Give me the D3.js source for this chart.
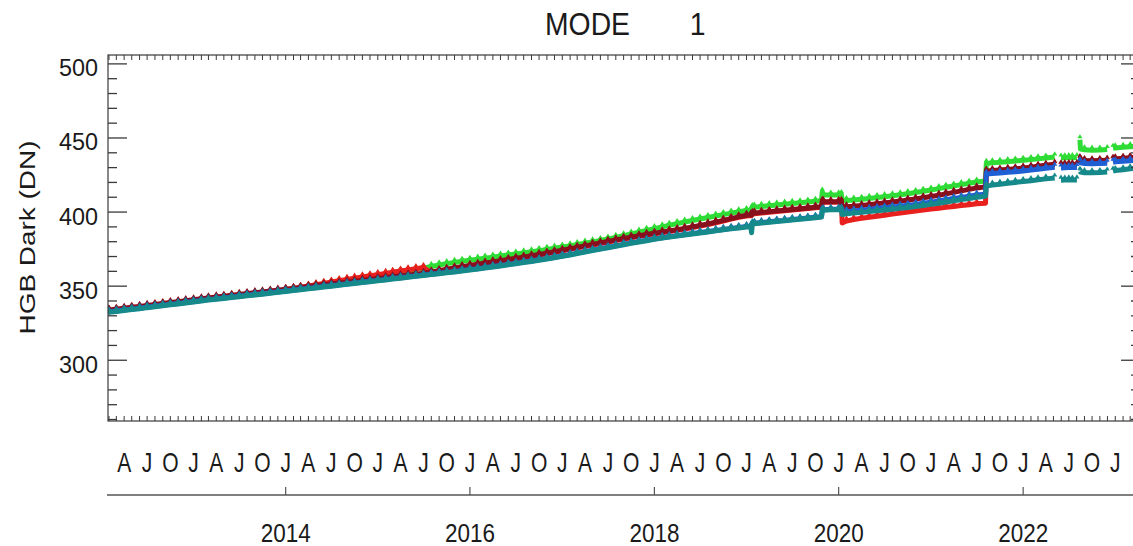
<!DOCTYPE html>
<html>
<head>
<meta charset="utf-8">
<script src="https://cdn.jsdelivr.net/npm/d3@7"></script>
<style>
  html, body { margin: 0; padding: 0; background: #fff; }
  svg { display: block; font-family: "Liberation Sans", Arial, sans-serif; }
</style>
</head>
<body>
<svg id="chart" width="1133" height="546"></svg>
<script>
// Sample dates (UTC). null entries in the series mark data gaps.
const dates = [
  "2012-01-28","2012-02-01","2012-03-01","2012-04-01","2012-05-01","2012-06-01","2012-07-01","2012-08-01","2012-09-01","2012-10-01","2012-11-01","2012-12-01",
  "2013-01-01","2013-02-01","2013-03-01","2013-04-01","2013-05-01","2013-06-01","2013-07-01","2013-08-01","2013-09-01","2013-10-01","2013-11-01","2013-12-01",
  "2014-01-01","2014-02-01","2014-03-01","2014-04-01","2014-05-01","2014-06-01","2014-07-01","2014-08-01","2014-09-01","2014-10-01","2014-11-01","2014-12-01",
  "2015-01-01","2015-02-01","2015-03-01","2015-04-01","2015-05-01","2015-06-01","2015-07-01","2015-08-01","2015-09-01","2015-10-01","2015-11-01","2015-12-01",
  "2016-01-01","2016-02-01","2016-03-01","2016-04-01","2016-05-01","2016-06-01","2016-07-01","2016-08-01","2016-09-01","2016-10-01","2016-11-01","2016-12-01",
  "2017-01-01","2017-02-01","2017-03-01","2017-04-01","2017-05-01","2017-06-01","2017-07-01","2017-08-01","2017-09-01","2017-10-01","2017-11-01","2017-12-01",
  "2018-01-01","2018-02-01","2018-03-01","2018-04-01","2018-05-01","2018-06-01","2018-07-01","2018-08-01","2018-09-01","2018-10-01","2018-11-01","2018-12-01",
  "2019-01-01","2019-01-18","2019-01-21","2019-01-24","2019-02-01","2019-03-01","2019-04-01","2019-05-01","2019-06-01","2019-07-01","2019-08-01","2019-09-01","2019-10-01",
  "2019-10-25","2019-10-28","2019-11-01","2019-12-01","2020-01-01","2020-01-12","2020-01-15",
  "2020-02-01","2020-03-01","2020-04-01","2020-05-01","2020-06-01","2020-07-01","2020-08-01","2020-09-01","2020-10-01","2020-11-01","2020-12-01",
  "2021-01-01","2021-02-01","2021-03-01","2021-04-01","2021-05-01","2021-06-01","2021-07-01","2021-08-05","2021-08-08",
  "2021-09-01","2021-10-01","2021-11-01","2021-12-01",
  "2022-01-01","2022-02-01","2022-03-01","2022-04-01","2022-05-06","2022-05-18","2022-05-31","2022-06-15","2022-07-01","2022-07-15","2022-08-02","2022-08-08",
  "2022-08-14","2022-08-16","2022-09-01","2022-10-01","2022-11-01","2022-11-30","2022-12-12","2022-12-23",
  "2023-01-01","2023-02-01","2023-03-01","2023-04-08"
];

const green = [
  332.7,332.9,333.4,334.1,334.7,335.3,336.0,336.6,337.3,337.9,338.5,339.2,
  339.8,340.5,341.1,341.7,342.2,342.8,343.4,344.0,344.6,345.1,345.7,346.3,
  347.2,348.0,348.8,349.7,350.6,351.5,352.4,353.3,354.2,355.0,355.8,356.6,
  357.4,358.2,359.0,359.8,360.6,361.4,362.2,363.3,364.3,365.2,366.0,366.8,
  367.5,368.2,368.9,369.6,370.3,371.0,371.7,372.4,373.2,374.0,374.8,375.6,
  376.4,377.2,378.1,379.0,379.9,380.8,381.8,382.9,384.0,385.2,386.4,387.6,
  388.8,390.0,391.1,392.2,393.3,394.3,395.3,396.3,397.3,398.3,399.3,400.2,
  401.0,401.3,401.4,403.0,403.3,403.8,404.3,404.8,405.3,405.8,406.3,406.8,407.3,
  407.6,413.5,411.6,411.5,411.6,411.8,407.6,
  407.8,408.1,408.6,409.2,409.8,410.4,411.0,411.7,412.4,413.2,414.0,
  414.9,415.8,416.7,417.6,418.5,419.4,420.3,420.9,432.8,
  433.2,433.6,434.0,434.4,
  434.9,435.4,435.9,436.5,437.2,null,436.5,436.6,436.7,436.7,436.8,null,
  448.8,442.5,442.0,441.8,441.9,442.2,null,443.0,
  443.3,443.7,444.1,444.6
];

const red = [
  333.2,333.4,333.9,334.6,335.2,335.8,336.5,337.1,337.8,338.4,339.0,339.7,
  340.3,341.0,341.6,342.2,342.7,343.3,343.9,344.5,345.1,345.6,346.2,346.8,
  347.6,348.4,349.2,350.1,351.0,351.9,352.8,353.7,354.6,355.4,356.2,357.0,
  357.8,358.6,359.4,360.2,361.0,361.8,362.6,359.2,360.1,361.0,361.9,362.8,
  363.6,364.4,365.2,366.0,366.8,367.6,368.4,369.2,370.1,371.0,371.9,372.8,
  373.8,374.8,375.8,376.8,377.8,378.8,379.8,380.8,381.8,382.7,383.6,384.5,
  385.3,386.1,386.9,387.7,388.6,389.6,390.6,391.6,392.8,394.0,395.2,396.4,
  397.4,397.6,397.6,398.6,398.9,399.4,399.9,400.4,400.9,401.4,401.9,402.4,402.9,
  403.2,406.8,406.7,406.6,406.7,406.8,392.6,
  394.0,395.0,395.8,396.5,397.2,397.9,398.6,399.3,400.0,400.7,401.4,
  402.0,402.6,403.2,403.8,404.4,405.0,405.6,406.0,427.2,
  427.6,428.0,428.4,428.8,
  429.3,429.9,430.5,431.2,431.9,null,431.4,431.5,431.6,431.6,431.7,null,
  435.6,434.8,434.4,434.2,434.4,434.6,null,435.2,
  435.5,435.9,436.3,436.8
];

const maroon = [
  333.7,333.9,334.4,335.1,335.7,336.3,337.0,337.6,338.3,338.9,339.5,340.2,
  340.8,341.5,342.1,342.7,343.2,343.8,344.4,345.0,345.6,346.1,346.7,347.3,
  347.9,348.5,349.1,349.7,350.3,350.9,351.5,352.1,352.7,353.3,353.9,354.5,
  355.1,355.7,356.3,356.9,357.5,358.1,358.7,359.6,360.5,361.4,362.3,363.2,
  364.0,364.8,365.6,366.4,367.2,368.0,368.8,369.6,370.5,371.4,372.3,373.2,
  374.2,375.2,376.2,377.2,378.2,379.2,380.2,381.2,382.2,383.1,384.0,384.9,
  385.7,386.5,387.3,388.1,389.0,390.0,391.0,392.0,393.2,394.4,395.6,396.8,
  397.8,398.0,398.0,399.0,399.3,399.8,400.3,400.8,401.3,401.8,402.3,402.8,403.3,
  403.6,407.2,407.1,407.0,407.1,407.2,403.5,
  403.6,403.9,404.4,405.0,405.6,406.2,406.8,407.4,408.1,408.8,409.6,
  410.5,411.4,412.3,413.3,414.3,415.3,416.3,417.0,427.6,
  428.0,428.4,428.8,429.2,
  429.7,430.3,430.9,431.6,432.3,null,431.8,431.9,432.0,432.0,432.1,null,
  436.0,435.2,434.8,434.6,434.8,435.0,null,435.6,
  435.9,436.3,436.7,437.2
];

const blue = [
  332.5,332.7,333.2,333.9,334.5,335.1,335.8,336.4,337.1,337.7,338.3,339.0,
  339.6,340.3,340.9,341.5,342.0,342.6,343.2,343.8,344.4,344.9,345.5,346.1,
  346.7,347.3,347.9,348.5,349.1,349.7,350.3,350.9,351.5,352.1,352.7,353.3,
  353.9,354.5,355.1,355.7,356.3,356.9,357.5,358.1,358.7,359.3,359.9,360.5,
  361.2,361.8,362.5,363.2,363.9,364.7,365.4,366.2,367.0,367.8,368.6,369.5,
  370.4,371.3,372.3,373.3,374.3,375.3,376.2,377.2,378.2,379.2,380.1,381.0,
  381.9,382.7,383.4,384.1,384.8,385.5,386.2,386.9,387.6,388.3,389.0,389.6,
  390.2,390.4,390.4,392.1,392.4,392.9,393.4,393.9,394.4,395.0,395.5,396.0,396.5,
  396.9,401.4,401.6,401.9,402.0,402.2,399.8,
  400.3,400.8,401.3,401.8,402.4,402.9,403.4,404.0,404.6,405.2,405.9,
  406.7,407.5,408.3,409.1,409.9,410.7,411.5,412.1,425.6,
  426.0,426.4,426.8,427.2,
  427.7,428.3,428.9,429.6,430.3,null,429.8,429.9,430.0,430.0,430.1,null,
  434.0,433.2,432.8,432.6,432.8,433.0,null,433.6,
  433.9,434.3,434.7,435.2
];

const teal = [
  332.2,332.4,332.9,333.6,334.2,334.8,335.5,336.1,336.8,337.4,338.0,338.7,
  339.3,340.0,340.6,341.2,341.7,342.3,342.9,343.5,344.1,344.6,345.2,345.8,
  346.4,347.0,347.6,348.2,348.8,349.4,350.0,350.6,351.2,351.8,352.4,353.0,
  353.6,354.2,354.8,355.4,356.0,356.6,357.2,357.8,358.4,359.0,359.6,360.2,
  360.9,361.5,362.2,362.9,363.6,364.4,365.1,365.9,366.7,367.5,368.3,369.2,
  370.1,371.0,372.0,373.0,374.0,375.0,375.9,376.9,377.9,378.9,379.8,380.7,
  381.6,382.4,383.1,383.8,384.5,385.2,385.9,386.6,387.3,388.0,388.7,389.3,
  389.9,390.1,386.0,391.8,392.1,392.6,393.1,393.6,394.1,394.7,395.2,395.7,396.2,
  396.6,401.0,401.2,401.5,401.6,401.8,398.3,
  398.8,399.3,399.8,400.3,400.9,401.4,401.9,402.5,403.1,403.7,404.4,
  405.2,406.0,406.8,407.6,408.4,409.2,410.0,410.6,417.5,
  418.2,418.8,419.4,420.0,
  420.6,421.2,421.8,422.4,423.0,null,421.5,421.6,421.7,421.6,421.7,null,
  427.5,427.0,426.6,426.5,426.7,427.0,null,427.6,
  428.0,428.5,429.2,430.0
];

// Series in drawing order (last one ends up on top).
const seriesNames  = ["green", "red", "maroon", "blue", "teal"];
const seriesColors = ["#2fdc36", "#e8201e", "#88101c", "#1f5fd4", "#16898b"];
const seriesValues = [green, red, maroon, blue, teal];

const yTickValues = [300, 350, 400, 450, 500];
const quarterLetters = ["J", "A", "J", "O"];       // Jan, Apr, Jul, Oct
const yearTicks = [2014, 2016, 2018, 2020, 2022];

const titleParts = ["MODE", "1"];
const yTitle = "HGB Dark (DN)";

(function draw() {
  const svg = d3.select("#chart");
  const plotL = 108, plotR = 1140, plotT = 55, plotB = 421;
  const parse = d3.utcParse("%Y-%m-%d");

  const x = d3.scaleUtc()
    .domain([parse("2012-01-28"), parse("2023-04-09")])
    .range([plotL, plotR]);
  const y = d3.scaleLinear().domain([259, 506]).range([plotB, plotT]);

  const ink = "#1a1a1a";

  function label(g, px, py, str, size, sx, anchor) {
    return g.append("text")
      .attr("transform", `translate(${px},${py}) scale(${sx},1)`)
      .attr("text-anchor", anchor)
      .attr("font-size", size)
      .attr("fill", ink)
      .text(str);
  }

  // ---- data ----
  svg.append("clipPath").attr("id", "plotclip")
    .append("rect").attr("x", plotL).attr("y", plotT)
    .attr("width", plotR - plotL).attr("height", plotB - plotT);

  const plot = svg.append("g").attr("clip-path", "url(#plotclip)");

  const line = d3.line()
    .defined(d => d.v != null)
    .x(d => x(d.t))
    .y(d => y(d.v));

  seriesValues.forEach((vals, i) => {
    const pts = dates.map((s, k) => ({ t: parse(s), v: vals[k] }));
    const g = plot.append("g").attr("class", "series-" + seriesNames[i]);
    g.append("path")
      .datum(pts)
      .attr("fill", "none")
      .attr("stroke", seriesColors[i])
      .attr("stroke-width", 5)
      .attr("stroke-linejoin", "round")
      .attr("d", line);
    // small sawtooth markers on each sample
    g.selectAll("path.tooth")
      .data(pts.filter(d => d.v != null))
      .join("path")
      .attr("class", "tooth")
      .attr("fill", seriesColors[i])
      .attr("d", d => {
        const cx = x(d.t), cy = y(d.v);
        return `M${cx - 2.6},${cy - 1.5}L${cx},${cy - 5.6}L${cx + 2.6},${cy - 1.5}Z`;
      });
  });

  // ---- frame & ticks ----
  const axes = svg.append("g").attr("stroke", "#3a3a3a").attr("fill", "none");
  axes.append("rect")
    .attr("x", plotL).attr("y", plotT)
    .attr("width", plotR - plotL).attr("height", plotB - plotT)
    .attr("stroke-width", 1.2);

  d3.range(260, 507, 10).forEach(v => {
    const len = v % 50 === 0 ? 19 : 9;
    axes.append("line").attr("x1", plotL).attr("x2", plotL + len)
      .attr("y1", y(v)).attr("y2", y(v)).attr("stroke-width", 1.3);
    axes.append("line").attr("x1", plotR).attr("x2", plotR - len)
      .attr("y1", y(v)).attr("y2", y(v)).attr("stroke-width", 1.3);
  });

  d3.utcMonth.range(x.domain()[0], x.domain()[1]).forEach(m => {
    const px = x(m);
    axes.append("line").attr("x1", px).attr("x2", px).attr("y1", plotT).attr("y2", plotT + 5).attr("stroke-width", 1);
    axes.append("line").attr("x1", px).attr("x2", px).attr("y1", plotB).attr("y2", plotB - 5).attr("stroke-width", 1);
  });

  // ---- y labels ----
  const yl = svg.append("g");
  yTickValues.forEach(v => label(yl, 98, y(v) + 12.5, String(v), 24.5, 0.955, "end"));

  svg.append("text")
    .attr("transform", "translate(35,237.5) rotate(-90) scale(1.3,1)")
    .attr("text-anchor", "middle")
    .attr("font-size", 21.5)
    .attr("fill", ink)
    .text(yTitle);

  // ---- title ----
  const tg = svg.append("g");
  label(tg, 587.5, 35, titleParts[0], 31, 0.914, "middle");
  label(tg, 697.5, 35, titleParts[1], 31, 0.914, "middle");

  // ---- quarter letters under the frame ----
  const ql = svg.append("g");
  d3.utcMonth.every(3).range(parse("2012-04-01"), parse("2023-02-01")).forEach(m => {
    label(ql, x(m), 471.5, quarterLetters[m.getUTCMonth() / 3], 27, 0.78, "middle");
  });

  // ---- secondary year axis ----
  const yearAxisY = 495;
  const ya = svg.append("g");
  ya.append("line")
    .attr("x1", 107).attr("x2", plotR).attr("y1", yearAxisY).attr("y2", yearAxisY)
    .attr("stroke", "#555").attr("stroke-width", 1.4);
  yearTicks.forEach(yr => {
    const px = x(Date.UTC(yr, 0, 1));
    ya.append("line").attr("x1", px).attr("x2", px)
      .attr("y1", yearAxisY).attr("y2", yearAxisY - 8)
      .attr("stroke", "#555").attr("stroke-width", 1.2);
    label(ya, px, 541.5, String(yr), 25.7, 0.875, "middle");
  });
})();
</script>
</body>
</html>
